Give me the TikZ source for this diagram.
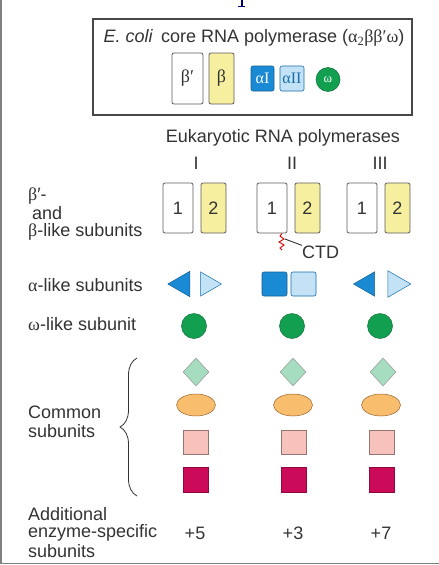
\documentclass[tikz,border=0pt]{standalone}
\usepackage{fontspec}
\setmainfont{Liberation Sans}
\newfontfamily\grk{Liberation Serif}
\usetikzlibrary{shapes.geometric,decorations.pathreplacing}
\definecolor{txt}{HTML}{333333}
\definecolor{yel}{HTML}{F6EFA0}
\definecolor{dblue}{HTML}{1A8AD4}
\definecolor{lblue}{HTML}{C4E2F6}
\definecolor{grn}{HTML}{12A050}
\definecolor{lgrn}{HTML}{A6DCC0}
\definecolor{org}{HTML}{F8BE6E}
\definecolor{pnk}{HTML}{F8C2BC}
\definecolor{mag}{HTML}{CC0A5A}
\definecolor{frame}{HTML}{808080}
\tikzset{
  lab/.style={text=txt,font=\fontsize{18}{20}\selectfont,anchor=west,inner sep=0pt},
  sub/.style={rectangle,rounded corners=2pt,draw=txt!80,line width=0.8pt,minimum width=30pt,minimum height=50pt,inner sep=0pt,font=\fontsize{18}{20}\selectfont,text=txt},
  ybox/.style={sub,fill=yel},
  wbox/.style={sub,fill=white},
  aDark/.style={rectangle,rounded corners=2pt,draw=dblue!70!black,line width=0.6pt,fill=dblue,minimum width=24pt,minimum height=24pt,inner sep=0pt},
  aLight/.style={rectangle,rounded corners=2pt,draw=dblue!80!black,line width=0.6pt,fill=lblue,minimum width=24pt,minimum height=24pt,inner sep=0pt},
  omega/.style={circle,fill=grn,draw=grn!70!black,line width=0.5pt,minimum size=25pt,inner sep=0pt},
  dia/.style={diamond,fill=lgrn,draw=gray!80,line width=0.5pt,minimum width=26pt,minimum height=28pt,inner sep=0pt},
  ell/.style={ellipse,fill=org,draw=brown!80!black,line width=0.5pt,minimum width=39pt,minimum height=22pt,inner sep=0pt},
  psq/.style={rectangle,fill=pnk,draw=pnk!60!black,line width=0.4pt,minimum width=25pt,minimum height=24pt,inner sep=0pt},
  msq/.style={rectangle,fill=mag,draw=mag!70!black,line width=0.4pt,minimum width=25pt,minimum height=25pt,inner sep=0pt},
  num/.style={text=txt,font=\fontsize{18}{20}\selectfont,inner sep=0pt},
  tri/.style={isosceles triangle,isosceles triangle apex angle=60,line width=0.5pt,minimum height=21pt,minimum width=24pt,inner sep=0pt}
}
\begin{document}
\begin{tikzpicture}[x=1pt,y=-1pt]
\useasboundingbox (0,0) rectangle (439,565);
\fill[white] (0,0) rectangle (439,565);
% frame lines
\draw[frame,line width=1.5pt] (1,0) -- (1,563.5) -- (439,563.5);
% cut-off glyph at top
\fill[blue!40!black] (240.5,0) rectangle (242.5,6);
\draw[blue!40!black,line width=0.6pt] (238,6.5) -- (245,6.5);
% E. coli box
\node[draw=txt!90,line width=1.4pt,minimum width=319pt,minimum height=96pt,inner sep=0pt] (ecoli) at (252.5,67) {};
\node[text=txt,font=\fontsize{18}{20}\selectfont,inner sep=0pt] (ecolit) at (254,38) {\textit{E. coli}\, core RNA polymerase ({\grk α\textsubscript{2}ββ′ω})};
\node[wbox,minimum width=31pt,minimum height=51pt] (bp) at (187.5,78.5) {\grk β′};
\node[ybox,minimum width=25pt,minimum height=51pt] (b) at (221.5,78.5) {\grk β};
\node[aDark,minimum width=23pt,minimum height=25pt,text=white,font=\fontsize{16}{18}\selectfont] (aI) at (262.5,78.5) {\grk αI};
\node[aLight,minimum width=24pt,minimum height=25pt,text=dblue!80!black,font=\fontsize{16}{18}\selectfont] (aII) at (292,78.5) {\grk αII};
\node[omega,minimum size=24pt,text=white,font=\fontsize{13}{15}\selectfont] (w) at (328,79.5) {\grk ω};
% Eukaryotic header
\node[num] (euk) at (283,138) {Eukaryotic RNA polymerases};
\node[num] (rI) at (196,163) {I};
\node[num] (rII) at (292,163) {II};
\node[num] (rIII) at (380,163) {III};
% left labels
\node[lab] (lb1) at (28,196) {{\grk β}′-};
\node[lab] (lb2) at (32,213) {and};
\node[lab] (lb3) at (28,232) {{\grk β}-like subunits};
\node[lab] (la) at (28,285) {{\grk α}-like subunits};
\node[lab] (lw) at (28,324) {{\grk ω}-like subunit};
\node[lab] (lc1) at (28,412) {Common};
\node[lab] (lc2) at (28,431) {subunits};
\node[lab] (ld1) at (28,514) {Additional};
\node[lab] (ld2) at (28,533) {enzyme-specific};
\node[lab] (ld3) at (28,551) {subunits};
% beta subunits
\node[wbox] (I1) at (178,208) {1};
\node[ybox,minimum width=25pt] (I2) at (213.5,208) {2};
\node[wbox] (II1) at (272,208) {1};
\node[ybox,minimum width=25pt] (II2) at (307.5,208) {2};
\node[wbox] (III1) at (362,208) {1};
\node[ybox,minimum width=25pt] (III2) at (397.5,208) {2};
% CTD
\coordinate (ctdtop) at (282,233.5);
\draw[red!85!black,line width=0.9pt] (ctdtop) -- (280,236) -- (284,239) -- (279,242) -- (284,245) -- (280,248) -- (282,250);
\coordinate (ctdend) at (285,239);
\node[num,anchor=west] (ctd) at (302,252) {CTD};
\draw[txt,line width=0.9pt] (ctdend) -- (ctd.north west);
% alpha-like
\node[tri,shape border rotate=180,fill=dblue,draw=dblue!70!black,minimum height=22pt] (tIa) at (182.5,284) {};
\node[tri,fill=lblue,draw=dblue!80!black] (tIb) at (207.5,284) {};
\node[aDark,minimum width=25pt,minimum height=24pt] (sIIa) at (274.5,284) {};
\node[aLight,minimum width=25pt,minimum height=24pt] (sIIb) at (303.5,284) {};
\node[tri,shape border rotate=180,fill=dblue,draw=dblue!70!black] (tIIIa) at (367.5,284) {};
\node[tri,fill=lblue,draw=dblue!80!black,minimum height=23pt] (tIIIb) at (395.5,284) {};
% omega-like
\node[omega] (wI) at (194,326) {};
\node[omega] (wII) at (292,326) {};
\node[omega] (wIII) at (380,326) {};
% common
\node[dia] (dI) at (196,372) {};
\node[dia] (dII) at (293,372) {};
\node[dia] (dIII) at (383,372) {};
\node[ell] (eI) at (196,405) {};
\node[ell] (eII) at (293,405) {};
\node[ell] (eIII) at (381,405) {};
\node[psq] (pI) at (195.5,442) {};
\node[psq] (pII) at (293.5,442) {};
\node[psq] (pIII) at (381.5,442) {};
\node[msq] (mI) at (195.5,479.5) {};
\node[msq] (mII) at (293.5,479.5) {};
\node[msq] (mIII) at (381.5,479.5) {};
% brace
\coordinate (brtop) at (137,358);
\coordinate (brbot) at (137,496);
\draw[txt,line width=0.8pt,decorate,decoration={brace,amplitude=17pt,mirror}] (brtop) -- (brbot);
% additional
\node[num] (pl5) at (195,533) {+5};
\node[num] (pl3) at (293,533) {+3};
\node[num] (pl7) at (381,533) {+7};
\end{tikzpicture}
\end{document}
